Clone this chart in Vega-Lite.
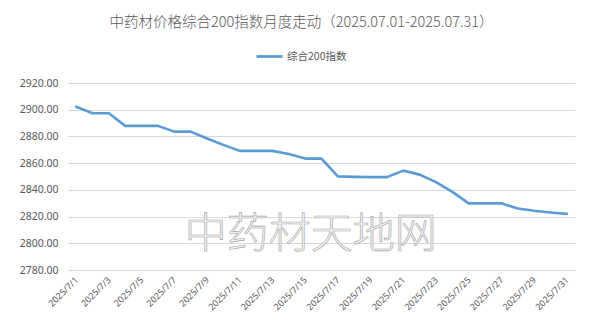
{
  "$schema": "https://vega.github.io/schema/vega-lite/v6.json",
  "width": 507,
  "height": 187,
  "autosize": {"type": "none"},
  "padding": {"left": 68, "top": 83, "right": 33, "bottom": 65},
  "background": "white",
  "title": {
    "text": "中药材价格综合200指数月度走动（2025.07.01-2025.07.31）",
    "font": "Noto Sans CJK SC",
    "fontSize": 14.5,
    "fontWeight": 300,
    "color": "#595959",
    "anchor": "middle",
    "frame": "group",
    "dx": -20,
    "offset": 12
  },
  "config": {
    "view": {"stroke": null},
    "axis": {"labelFont": "Noto Sans", "labelColor": "#595959", "titleColor": "#595959", "labelOverlap": false}
  },
  "datasets": {
    "index": [
      {"day": 1, "value": 2902.2, "series": "综合200指数"},
      {"day": 2, "value": 2897.3, "series": "综合200指数"},
      {"day": 3, "value": 2897.3, "series": "综合200指数"},
      {"day": 4, "value": 2887.9, "series": "综合200指数"},
      {"day": 5, "value": 2887.9, "series": "综合200指数"},
      {"day": 6, "value": 2887.9, "series": "综合200指数"},
      {"day": 7, "value": 2883.6, "series": "综合200指数"},
      {"day": 8, "value": 2883.6, "series": "综合200指数"},
      {"day": 9, "value": 2878.5, "series": "综合200指数"},
      {"day": 10, "value": 2873.7, "series": "综合200指数"},
      {"day": 11, "value": 2869.2, "series": "综合200指数"},
      {"day": 12, "value": 2869.2, "series": "综合200指数"},
      {"day": 13, "value": 2869.2, "series": "综合200指数"},
      {"day": 14, "value": 2866.9, "series": "综合200指数"},
      {"day": 15, "value": 2863.4, "series": "综合200指数"},
      {"day": 16, "value": 2863.4, "series": "综合200指数"},
      {"day": 17, "value": 2850.1, "series": "综合200指数"},
      {"day": 18, "value": 2849.7, "series": "综合200指数"},
      {"day": 19, "value": 2849.5, "series": "综合200指数"},
      {"day": 20, "value": 2849.5, "series": "综合200指数"},
      {"day": 21, "value": 2854.4, "series": "综合200指数"},
      {"day": 22, "value": 2851.4, "series": "综合200指数"},
      {"day": 23, "value": 2845.8, "series": "综合200指数"},
      {"day": 24, "value": 2838.5, "series": "综合200指数"},
      {"day": 25, "value": 2829.9, "series": "综合200指数"},
      {"day": 26, "value": 2829.9, "series": "综合200指数"},
      {"day": 27, "value": 2829.9, "series": "综合200指数"},
      {"day": 28, "value": 2826.1, "series": "综合200指数"},
      {"day": 29, "value": 2824.4, "series": "综合200指数"},
      {"day": 30, "value": 2823.1, "series": "综合200指数"},
      {"day": 31, "value": 2822.0, "series": "综合200指数"}
    ],
    "watermark": [
      {"day": 15.35, "value": 2806.5, "label": "中药材天地网"}
    ]
  },
  "encoding": {
    "x": {
      "field": "day",
      "type": "quantitative",
      "scale": {"domain": [0.5, 31.5], "nice": false, "zero": false},
      "axis": {
        "title": null,
        "values": [1, 3, 5, 7, 9, 11, 13, 15, 17, 19, 21, 23, 25, 27, 29, 31],
        "labelExpr": "'2025/7/' + datum.value",
        "labelAngle": -45,
        "labelAlign": "right",
        "labelBaseline": "middle",
        "labelFontSize": 9,
        "labelPadding": 8,
        "ticks": false,
        "grid": false,
        "domainColor": "#d9d9d9",
        "domainWidth": 1,
        "labelOverlap": false,
        "labelFlush": false
      }
    },
    "y": {
      "field": "value",
      "type": "quantitative",
      "scale": {"domain": [2780, 2920], "nice": false, "zero": false},
      "axis": {
        "title": null,
        "values": [2780, 2800, 2820, 2840, 2860, 2880, 2900, 2920],
        "format": ".2f",
        "labelFontSize": 10.5,
        "labelPadding": 10,
        "labelOverlap": false,
        "labelFlush": false,
        "ticks": false,
        "domain": false,
        "gridColor": "#d9d9d9",
        "gridWidth": 1
      }
    }
  },
  "layer": [
    {
      "data": {"name": "watermark"},
      "mark": {
        "type": "text",
        "font": "Noto Sans CJK SC",
        "fontSize": 42,
        "fontWeight": 300,
        "fill": "#f3f3f3",
        "stroke": "#a3a3a3",
        "strokeWidth": 0.6,
        "align": "center",
        "baseline": "middle"
      },
      "encoding": {
        "text": {"field": "label"}
      }
    },
    {
      "data": {"name": "index"},
      "mark": {"type": "line", "strokeWidth": 2.6, "strokeJoin": "round", "strokeCap": "round"},
      "encoding": {
        "color": {
          "field": "series",
          "type": "nominal",
          "scale": {"range": ["#5B9BD5"]},
          "legend": {
            "title": null,
            "orient": "none",
            "legendX": 187,
            "legendY": -41,
            "symbolType": "stroke",
            "symbolStrokeWidth": 2.8,
            "symbolSize": 676,
            "labelFont": "Noto Sans CJK SC",
            "labelFontSize": 10.5,
            "labelColor": "#595959",
            "labelOffset": 3
          }
        }
      }
    }
  ]
}
